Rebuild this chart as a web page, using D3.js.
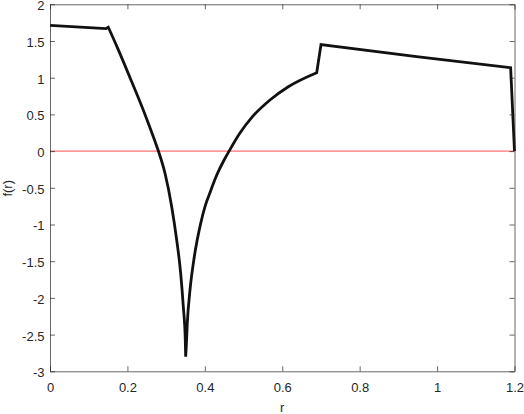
<!DOCTYPE html>
<html><head><meta charset="utf-8">
<script src="https://cdn.jsdelivr.net/npm/d3@7"></script>
<style>body{margin:0;background:#fff}</style>
</head><body>
<svg id="c" width="524" height="414"></svg>
<script>
// Curve pieces (r, f); kinks separate the pieces
const rFlat = [0, 0.1447, 0.1505];
const fFlat = [1.714, 1.668, 1.688];
const rFall = [0.1505, 0.1749, 0.2111, 0.2454, 0.2700, 0.2798, 0.2971, 0.3144, 0.3273, 0.3376, 0.3444, 0.3495, 0.3505];
const fFall = [1.688, 1.400, 0.945, 0.500, 0.151, 0.005, -0.302, -0.757, -1.211, -1.665, -2.120, -2.574, -2.801];
const rRise = [0.3505, 0.3520, 0.3547, 0.3617, 0.3728, 0.3893, 0.4004, 0.4159, 0.4255, 0.4369, 0.4498, 0.4632, 0.4903, 0.5231, 0.5683, 0.6156, 0.6890];
const fRise = [-2.801, -2.665, -2.346, -1.892, -1.439, -0.984, -0.757, -0.530, -0.394, -0.257, -0.121, 0.005, 0.243, 0.469, 0.696, 0.877, 1.068];
const rTail = [0.6890, 0.7001, 0.947, 1.190, 1.200];
const fTail = [1.068, 1.452, 1.286, 1.136, 0];
const xTicks = [0, 0.2, 0.4, 0.6, 0.8, 1, 1.2];
const yTicks = [-3, -2.5, -2, -1.5, -1, -0.5, 0, 0.5, 1, 1.5, 2];
const refLine = [0];

const svg = d3.select("#c");
const L = 50, R = 514.5, T = 4.3, B = 371.3;
const x = d3.scaleLinear().domain([0, 1.2]).range([L, R]);
const y = d3.scaleLinear().domain([-3, 2]).range([B, T]);
const axisColor = "#262626";
const font = "Helvetica, 'Liberation Sans', Arial, sans-serif";

// zero line
svg.append("line")
  .attr("x1", x(0)).attr("x2", x(1.2))
  .attr("y1", y(refLine[0])).attr("y2", y(refLine[0]))
  .attr("stroke", "#ff0000").attr("stroke-width", 0.7);

// curve: one path built from pieces; smooth pieces use a monotone curve
const zip = (rs, fs) => rs.map((r, i) => [r, fs[i]]);
const lin = d3.line().x(d => x(d[0])).y(d => y(d[1]));
const smooth = d3.line().x(d => x(d[0])).y(d => y(d[1])).curve(d3.curveMonotoneX);
const cont = s => "L" + s.slice(1);
const pieces = [
  lin(zip(rFlat, fFlat)),
  cont(smooth(zip(rFall, fFall))),
  cont(smooth(zip(rRise, fRise))),
  cont(lin(zip(rTail, fTail)))
];
svg.append("path")
  .attr("fill", "none").attr("stroke", "#111").attr("stroke-width", 2.8)
  .attr("stroke-linejoin", "miter").attr("stroke-miterlimit", 10)
  .attr("d", pieces.join(""));

// axes
const fmt = d => String(d);
const gBottom = svg.append("g").attr("transform", `translate(0,${B})`)
  .call(d3.axisBottom(x).tickValues(xTicks).tickFormat(fmt).tickSizeInner(-5).tickSizeOuter(0).tickPadding(11));
const gTop = svg.append("g").attr("transform", `translate(0,${T})`)
  .call(d3.axisTop(x).tickValues(xTicks).tickFormat("").tickSizeInner(-5).tickSizeOuter(0));
const gLeft = svg.append("g").attr("transform", `translate(${L},0)`)
  .call(d3.axisLeft(y).tickValues(yTicks).tickFormat(fmt).tickSizeInner(-5).tickSizeOuter(0).tickPadding(5.5));
const gRight = svg.append("g").attr("transform", `translate(${R},0)`)
  .call(d3.axisRight(y).tickValues(yTicks).tickFormat("").tickSizeInner(-5).tickSizeOuter(0));

[gBottom, gTop, gLeft, gRight].forEach(g => {
  g.selectAll("path.domain").attr("stroke", axisColor).attr("stroke-width", 0.7);
  g.selectAll(".tick line").attr("stroke", axisColor).attr("stroke-width", 0.7);
  g.selectAll("text").attr("fill", axisColor).style("font-family", font).style("font-size", "13px");
});
gLeft.selectAll("text").attr("dy", "0.42em");

svg.append("text").attr("x", x(0.6)).attr("y", 411.5)
  .attr("text-anchor", "middle").attr("fill", axisColor)
  .style("font-family", font).style("font-size", "13px").text("r");
svg.append("text").attr("transform", `translate(11.5,${y(-0.5) + 0.5}) rotate(-90)`)
  .attr("text-anchor", "middle").attr("fill", axisColor)
  .style("font-family", font).style("font-size", "13px").text("f(r)");
</script>
</body></html>
